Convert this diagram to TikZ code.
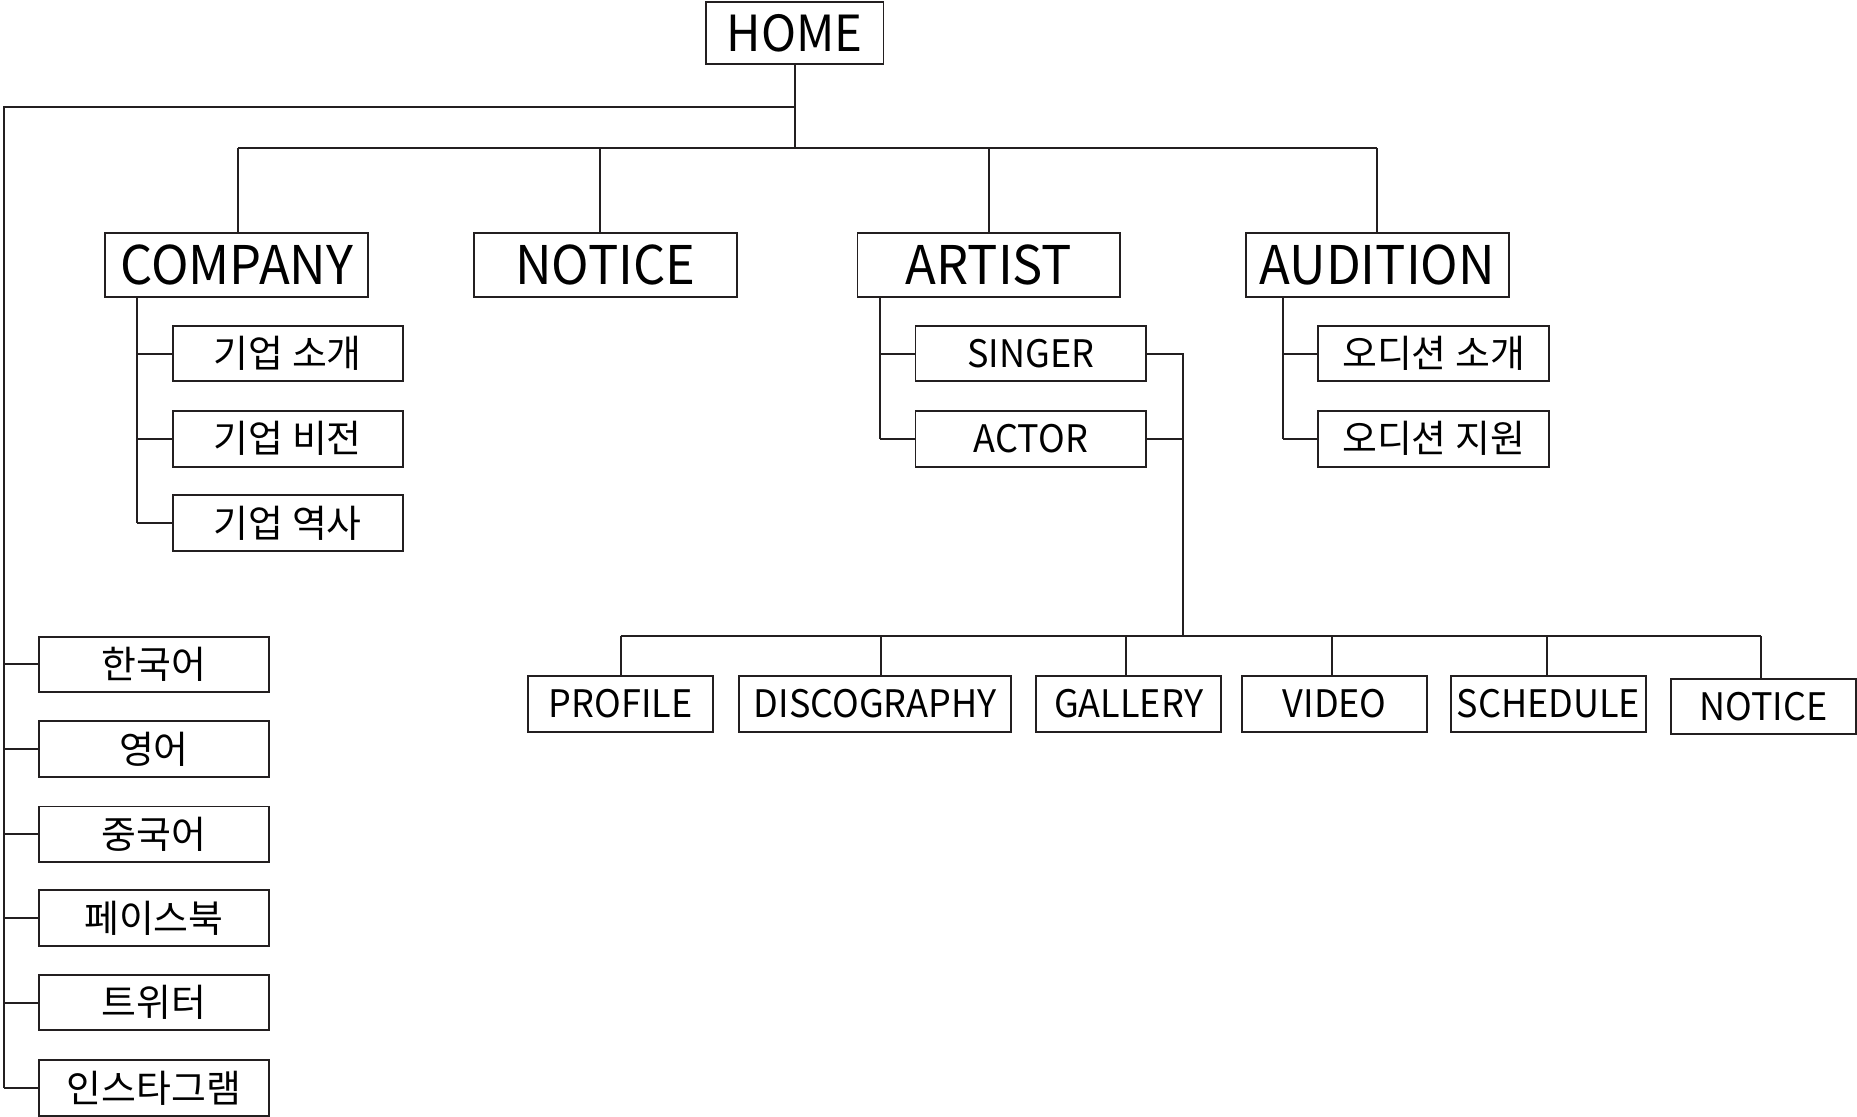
\documentclass[tikz,border=0pt]{standalone}
\usepackage{fontspec}
\setmainfont{Noto Sans CJK KR}
\newfontfamily\lat[FakeStretch=0.95]{Noto Sans CJK KR}
\definecolor{ink}{RGB}{35,31,32}
\begin{document}
\begin{tikzpicture}[x=1pt,y=-1pt,
  box/.style={draw=ink,line width=1.6pt,inner sep=0pt,text=black},
  big/.style={box,minimum width=222pt,minimum height=54pt,font=\lat\fontsize{45}{50}\selectfont},
  small/.style={box,minimum height=47pt,font=\fontsize{32}{36}\selectfont},
  smalllat/.style={small,font=\lat\fontsize{32}{36}\selectfont},
  wire/.style={draw=ink,line width=1.7pt}]
\useasboundingbox (0,0) rectangle (1568,943);
% root
\node[box,minimum width=150pt,minimum height=52pt,font=\lat\fontsize{42}{48}\selectfont] (home) at (671,28) {HOME};
% level 1
\node[big] (company) at (200,224) {COMPANY};
\node[big] (notice) at (511,224) {NOTICE};
\node[big] (artist) at (835,224) {ARTIST};
\node[big] (audition) at (1163,224) {AUDITION};
% company children
\node[small,minimum width=194pt] (c1) at (243,298.5) {기업 소개};
\node[small,minimum width=194pt] (c2) at (243,370.5) {기업 비전};
\node[small,minimum width=194pt] (c3) at (243,441.5) {기업 역사};
% artist children
\node[smalllat,minimum width=195pt] (singer) at (870.5,298.5) {SINGER};
\node[smalllat,minimum width=195pt] (actor) at (870.5,370.5) {ACTOR};
% audition children
\node[small,minimum width=195pt] (a1) at (1210.5,298.5) {오디션 소개};
\node[small,minimum width=195pt] (a2) at (1210.5,370.5) {오디션 지원};
% artist detail row
\node[smalllat,minimum width=156pt] (profile) at (524,594.5) {PROFILE};
\node[smalllat,minimum width=230pt] (disco) at (739,594.5) {DISCOGRAPHY};
\node[smalllat,minimum width=156pt] (gallery) at (953,594.5) {GALLERY};
\node[smalllat,minimum width=156pt] (video) at (1127,594.5) {VIDEO};
\node[smalllat,minimum width=165pt] (schedule) at (1307.5,594.5) {SCHEDULE};
\node[smalllat,minimum width=156pt] (notice2) at (1489,596.5) {NOTICE};
% left column
\node[small,minimum width=194pt] (l1) at (130,561) {한국어};
\node[small,minimum width=194pt] (l2) at (130,632.5) {영어};
\node[small,minimum width=194pt] (l3) at (130,704.5) {중국어};
\node[small,minimum width=194pt] (l4) at (130,775) {페이스북};
\node[small,minimum width=194pt] (l5) at (130,846.5) {트위터};
\node[small,minimum width=194pt] (l6) at (130,918.5) {인스타그램};
% coordinates
\coordinate (hb) at (671,125);
\coordinate (hl) at (671,90);
\coordinate (lt) at (3,90);
\coordinate (bl) at (201,125);
\coordinate (br) at (1163,125);
\coordinate (ab) at (999,537);
% wires from home
\draw[wire] (home.south) -- (hb);
\draw[wire] (hl) -- (lt) -- (3,918.5);
\draw[wire] (bl) -- (br);
\draw[wire] (bl) -- (company.north -| bl);
\draw[wire] (507,125) -- (notice.north -| 507,0);
\draw[wire] (835,125) -- (artist.north);
\draw[wire] (br) -- (audition.north);
% left column stubs
\foreach \n in {l1,l2,l3,l4,l5,l6} \draw[wire] (\n.west) -- (\n.west -| lt);
% company
\draw[wire] (company.south -| 116,0) -- (116,441.5);
\foreach \n in {c1,c2,c3} \draw[wire] (\n.west) -- (\n.west -| 116,0);
% artist
\draw[wire] (artist.south -| 743,0) -- (743,370.5);
\foreach \n in {singer,actor} \draw[wire] (\n.west) -- (\n.west -| 743,0);
\draw[wire] (singer.east) -- (singer.east -| ab) -- (ab);
\draw[wire] (actor.east) -- (actor.east -| ab);
% audition
\draw[wire] (audition.south -| 1083,0) -- (1083,370.5);
\foreach \n in {a1,a2} \draw[wire] (\n.west) -- (\n.west -| 1083,0);
% detail bus
\draw[wire] (524,537) -- (1487,537);
\draw[wire] (524,537) -- (profile.north);
\draw[wire] (744,537) -- (disco.north -| 744,0);
\draw[wire] (951,537) -- (gallery.north -| 951,0);
\draw[wire] (1125,537) -- (video.north -| 1125,0);
\draw[wire] (1306,537) -- (schedule.north -| 1306,0);
\draw[wire] (1487,537) -- (notice2.north -| 1487,0);
\end{tikzpicture}
\end{document}
